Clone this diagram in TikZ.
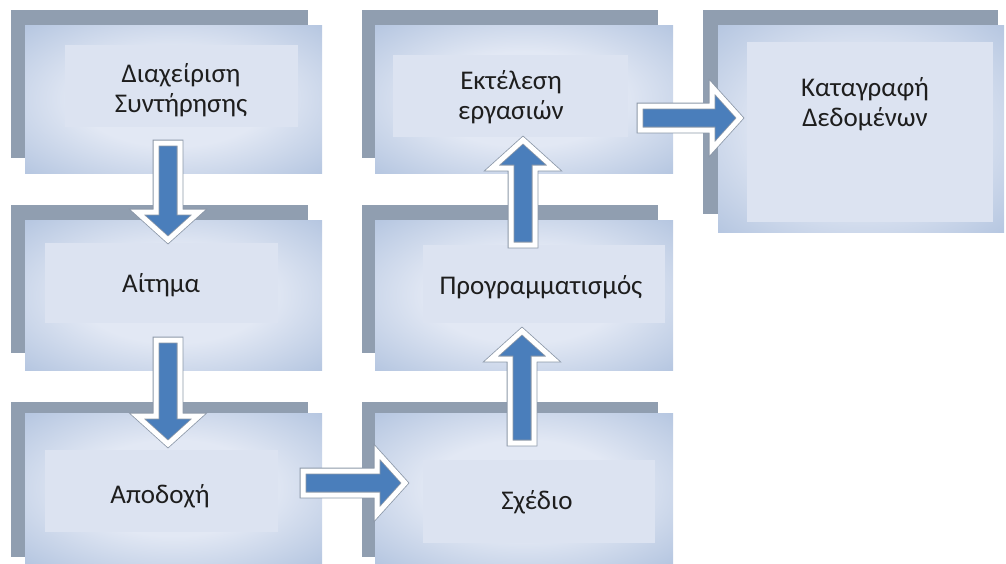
\documentclass[tikz,border=0pt]{standalone}
\usepackage{fontspec}
\setmainfont{Carlito}
\usetikzlibrary{calc,fit}

\definecolor{backgray}{HTML}{909EB0}
\definecolor{frontlight}{HTML}{E2E8F4}
\definecolor{frontdark}{HTML}{94ADD2}
\definecolor{innerfill}{HTML}{DCE3F1}
\definecolor{arrowblue}{HTML}{4A7EBB}
\definecolor{arrowedge}{HTML}{8C98A8}
\definecolor{labeltext}{HTML}{1E1E1E}

% soft glow for the front panel of every box
\pgfdeclareradialshading{boxglow}{\pgfpoint{0bp}{0bp}}{%
  color(0bp)=(frontlight); color(16bp)=(frontlight); color(50bp)=(frontdark)}

\tikzset{
  backbox/.style={fill=backgray, draw=none, inner sep=0pt},
  frontbox/.style={shading=boxglow, draw=none, inner sep=0pt},
  innerbox/.style={fill=innerfill, draw=none, inner sep=0pt},
  boxtext/.style={text=labeltext, font=\fontsize{27}{30}\selectfont, align=center, inner sep=0pt},
  arrowbody/.style={fill=arrowblue, draw=arrowedge, line width=0.8pt,
    double=white, double distance=5pt, line join=miter},
}

% block arrow from one named coordinate to another (tip at the second)
\newcommand\blockarrow[2]{%
  \draw[arrowbody] let \p1=(#1), \p2=(#2),
      \n1={veclen(\x2-\x1,\y2-\y1)}, \n2={atan2(\y2-\y1,\x2-\x1)} in
    [shift={(\x1,\y1)}, rotate=\n2]
    (0pt,-12pt) -- ({\n1-28pt},-12pt) -- ({\n1-28pt},-31pt) -- ({\n1},0pt)
    -- ({\n1-28pt},31pt) -- ({\n1-28pt},12pt) -- (0pt,12pt) -- cycle;}

\begin{document}
\begin{tikzpicture}[x=1pt, y=-1pt]
\useasboundingbox (0,0) rectangle (1006,563);

% Διαχείριση Συντήρησης
\node[backbox,  fit={(11,10) (308,158)}] (b1) {};
\node[frontbox, fit={(25,25) (322,173)}] (f1) {};
\node[innerbox, fit={(65,45) (298,127)}] (i1) {};
\node[boxtext] (t1) at (181,90) {Διαχείριση\\Συντήρησης};

% Αίτημα
\node[backbox,  fit={(11,205) (308,353)}] (b2) {};
\node[frontbox, fit={(25,220) (322,370)}] (f2) {};
\node[innerbox, fit={(45,243) (278,323)}] (i2) {};
\node[boxtext] (t2) at (161,285) {Αίτημα};

% Αποδοχή
\node[backbox,  fit={(11,402) (308,557)}] (b3) {};
\node[frontbox, fit={(25,413) (322,563)}] (f3) {};
\node[innerbox, fit={(45,450) (278,532)}] (i3) {};
\node[boxtext] (t3) at (160,496) {Αποδοχή};

% Σχέδιο
\node[backbox,  fit={(362,402) (658,557)}] (b4) {};
\node[frontbox, fit={(375,413) (673,563)}] (f4) {};
\node[innerbox, fit={(423,460) (655,543)}] (i4) {};
\node[boxtext] (t4) at (537,502) {Σχέδιο};

% Προγραμματισμός
\node[backbox,  fit={(362,205) (658,353)}] (b5) {};
\node[frontbox, fit={(375,220) (673,370)}] (f5) {};
\node[innerbox, fit={(423,245) (665,323)}] (i5) {};
\node[boxtext] (t5) at (541,287) {Προγραμματισμός};

% Εκτέλεση εργασιών
\node[backbox,  fit={(362,10) (658,158)}] (b6) {};
\node[frontbox, fit={(375,25) (673,173)}] (f6) {};
\node[innerbox, fit={(393,55) (628,137)}] (i6) {};
\node[boxtext] (t6) at (511,97) {Εκτέλεση\\εργασιών};

% Καταγραφή Δεδομένων
\node[backbox,  fit={(703,10) (998,214)}] (b7) {};
\node[frontbox, fit={(718,25) (1004,232)}] (f7) {};
\node[innerbox, fit={(747,42) (993,222)}] (i7) {};
\node[boxtext] (t7) at (865,104) {Καταγραφή\\Δεδομένων};

% arrow end points
\coordinate (a1s) at (168,143); \coordinate (a1e) at (168,240);
\coordinate (a2s) at (168,340); \coordinate (a2e) at (168,444);
\coordinate (a3s) at (303,483); \coordinate (a3e) at (405,483);
\coordinate (a4s) at (522,443); \coordinate (a4e) at (522,331);
\coordinate (a5s) at (523,245); \coordinate (a5e) at (523,140);
\coordinate (a6s) at (640,118); \coordinate (a6e) at (740,118);

\blockarrow{a1s}{a1e}
\blockarrow{a2s}{a2e}
\blockarrow{a3s}{a3e}
\blockarrow{a4s}{a4e}
\blockarrow{a5s}{a5e}
\blockarrow{a6s}{a6e}
\end{tikzpicture}
\end{document}
